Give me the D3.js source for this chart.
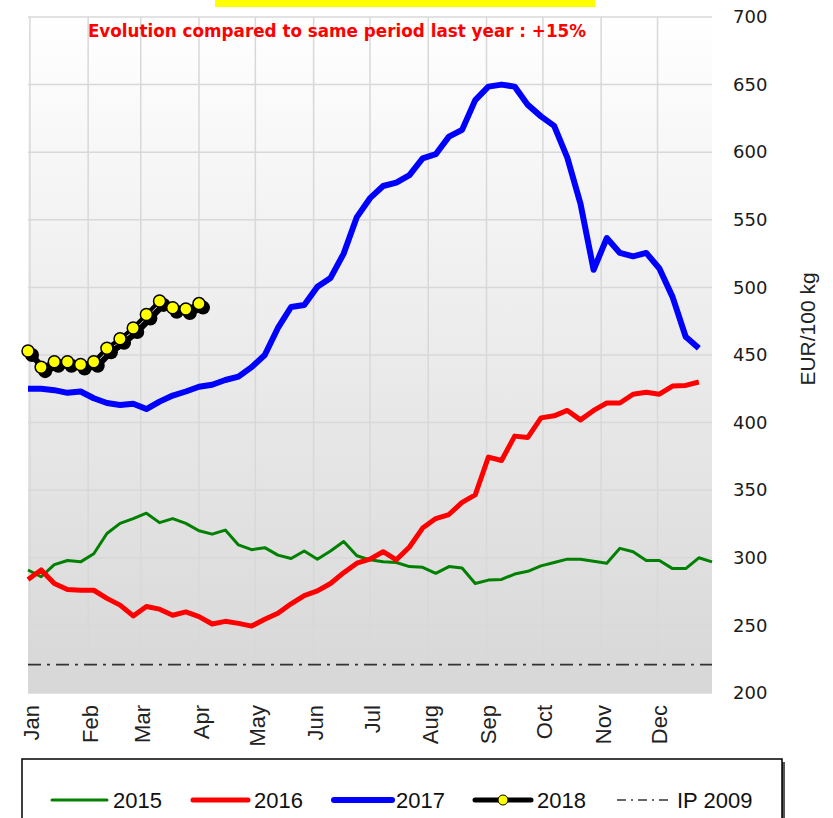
<!DOCTYPE html>
<html>
<head>
<meta charset="utf-8">
<script src="https://cdn.jsdelivr.net/npm/d3@7"></script>
<style>
  body { margin: 0; background: #fff; }
</style>
</head>
<body>
<div id="chart"></div>
<script>
// weekly prices, EUR/100 kg (week 1 = first point)
const months = ["Jan", "Feb", "Mar", "Apr", "May", "Jun", "Jul", "Aug", "Sep", "Oct", "Nov", "Dec"];
const monthStartDays = [0, 31, 59, 90, 120, 151, 181, 212, 243, 273, 304, 334];
const yTicks = [200, 250, 300, 350, 400, 450, 500, 550, 600, 650, 700];

const price2015 = [291, 286, 295, 298, 297, 303, 318, 325.5, 329, 333, 326, 329, 325.5, 320, 317.5, 320.5,
    309.5, 306, 307.5, 302, 299.5, 305, 299, 305, 312, 301.5, 298.5, 297, 296.5, 293.5, 293, 288.5, 293.5,
    292.5, 281, 283.5, 284, 288, 290, 294, 296.5, 299, 299, 297.5, 296, 307, 304.5, 298, 298, 292, 292, 300, 297];
const price2016 = [284, 291, 281, 276.5, 276, 276, 270, 265, 257, 264, 262, 257.5, 260, 256.5, 251, 253,
    251.5, 249.5, 254.5, 259, 266, 272, 275.5, 281, 289, 296, 299, 304.5, 298.5, 308, 322, 329, 332, 341,
    346.5, 374.5, 372, 390, 389, 403.5, 405, 409, 402, 409, 414.5, 414.5, 421, 422.5, 421, 427, 427.5, 430];
const price2017 = [425, 425, 424, 422, 423, 418, 414.5, 413, 414, 410, 415.5, 420, 423, 426.5, 428, 431.5,
    434, 441, 450, 470, 485.5, 487, 500.5, 507, 525, 552, 566, 575, 577.5, 583, 595.5, 598.5, 611.5, 616.5,
    638.5, 648.5, 650, 648.5, 635, 626.5, 619.5, 596, 562, 513, 536.5, 525.5, 523, 525.5, 514, 493, 463.5, 455];
const price2018 = [453, 441, 445, 445, 443, 445, 455, 462, 470, 480, 490, 485, 484, 488];
const ip2009 = 221;

const headline = "Evolution compared to same period last year : +15%";
const axisTitle = "EUR/100 kg";

const width = 833;
const height = 818;
const margin = {top: 17, right: 121, bottom: 125, left: 28};

const x = d3.scaleLinear([1, 53], [margin.left, width - margin.right]);
const y = d3.scaleLinear([200, 700], [height - margin.bottom, margin.top]);

const dayToWeek = d => 1 + (d + 1) / 7;

const svg = d3.select("#chart").append("svg")
    .attr("width", width)
    .attr("height", height)
    .attr("viewBox", [0, 0, width, height])
    .style("font-family", "'Liberation Sans', Arial, sans-serif");

const defs = svg.append("defs");
const grad = defs.append("linearGradient")
    .attr("id", "bg")
    .attr("x1", 0).attr("y1", 0).attr("x2", 0).attr("y2", 1);
grad.append("stop").attr("offset", "0%").attr("stop-color", "#ffffff");
grad.append("stop").attr("offset", "100%").attr("stop-color", "#d7d7d7");

// yellow strip at the top
svg.append("rect")
    .attr("x", 215).attr("y", 0)
    .attr("width", 380).attr("height", 7)
    .attr("fill", "#ffff00");

// plot background
svg.append("rect")
    .attr("x", x(1)).attr("y", y(700))
    .attr("width", x(53) - x(1))
    .attr("height", y(200) - y(700))
    .attr("fill", "url(#bg)");

// grid
svg.append("g")
    .selectAll("line")
    .data(yTicks)
    .join("line")
    .attr("x1", x(1)).attr("x2", x(53))
    .attr("y1", d => y(d)).attr("y2", d => y(d))
    .attr("stroke", "#d8d8d8")
    .attr("stroke-width", 1.5);

svg.append("g")
    .selectAll("line")
    .data(monthStartDays)
    .join("line")
    .attr("x1", d => x(dayToWeek(d))).attr("x2", d => x(dayToWeek(d)))
    .attr("y1", y(700)).attr("y2", y(200))
    .attr("stroke", "#d8d8d8")
    .attr("stroke-width", 1.5);

// y axis on the right
const yAxis = svg.append("g")
    .attr("transform", `translate(${x(53)},0)`)
    .call(d3.axisRight(y).tickValues(yTicks).tickSize(0).tickPadding(21));
yAxis.select(".domain").remove();
yAxis.selectAll("text")
    .attr("font-family", "'DejaVu Sans', Verdana, sans-serif")
    .attr("font-size", 18)
    .attr("fill", "#1a1a1a");

svg.append("text")
    .attr("transform", `translate(815,329) rotate(-90)`)
    .attr("text-anchor", "middle")
    .attr("font-size", 21)
    .attr("fill", "#222")
    .text(axisTitle);

// x axis month labels
const xAxis = svg.append("g")
    .attr("transform", `translate(0,${y(200)})`)
    .call(d3.axisBottom(x).tickValues(monthStartDays.map(dayToWeek)).tickFormat((d, i) => months[i]).tickSize(0));
xAxis.select(".domain").remove();
xAxis.selectAll("text")
    .attr("font-size", 22)
    .attr("fill", "#222")
    .attr("text-anchor", "end")
    .attr("dy", null)
    .attr("y", 0)
    .attr("transform", "translate(9,12) rotate(-90)");

// IP 2009 reference
svg.append("line")
    .attr("x1", x(1)).attr("x2", x(53))
    .attr("y1", y(ip2009)).attr("y2", y(ip2009))
    .attr("stroke", "#333")
    .attr("stroke-width", 1.6)
    .attr("stroke-dasharray", "13,6,3,6");

const line = d3.line()
    .x((d, i) => x(i + 1))
    .y(d => y(d));

svg.append("path")
    .datum(price2015)
    .attr("d", line)
    .attr("fill", "none")
    .attr("stroke", "#008000")
    .attr("stroke-width", 3)
    .attr("stroke-linejoin", "round");

svg.append("path")
    .datum(price2016)
    .attr("d", line)
    .attr("fill", "none")
    .attr("stroke", "#ff0000")
    .attr("stroke-width", 5)
    .attr("stroke-linejoin", "round");

svg.append("path")
    .datum(price2017)
    .attr("d", line)
    .attr("fill", "none")
    .attr("stroke", "#0000ff")
    .attr("stroke-width", 6)
    .attr("stroke-linejoin", "round");

// 2018 with a shadow
const shadow = svg.append("g").attr("transform", "translate(4,4)");
shadow.append("path")
    .datum(price2018)
    .attr("d", line)
    .attr("fill", "none")
    .attr("stroke", "#000")
    .attr("stroke-width", 6)
    .attr("stroke-linejoin", "round");
shadow.selectAll("circle")
    .data(price2018)
    .join("circle")
    .attr("cx", (d, i) => x(i + 1))
    .attr("cy", d => y(d))
    .attr("r", 7)
    .attr("fill", "#000");

svg.append("path")
    .datum(price2018)
    .attr("d", line)
    .attr("fill", "none")
    .attr("stroke", "#000")
    .attr("stroke-width", 4)
    .attr("stroke-linejoin", "round");
svg.append("g")
    .selectAll("circle")
    .data(price2018)
    .join("circle")
    .attr("cx", (d, i) => x(i + 1))
    .attr("cy", d => y(d))
    .attr("r", 6)
    .attr("fill", "#ffff00")
    .attr("stroke", "#000")
    .attr("stroke-width", 1.5);

// headline
svg.append("text")
    .attr("x", 337)
    .attr("y", 37)
    .attr("text-anchor", "middle")
    .attr("font-family", "'DejaVu Sans', Verdana, sans-serif")
    .attr("font-weight", "bold")
    .attr("font-size", 16.8)
    .attr("fill", "#ff0000")
    .text(headline);

// legend
const legend = svg.append("g");
legend.append("rect")
    .attr("x", 25).attr("y", 762)
    .attr("width", 760).attr("height", 70)
    .attr("fill", "#555");
legend.append("rect")
    .attr("x", 22).attr("y", 759)
    .attr("width", 760).attr("height", 70)
    .attr("fill", "#fff")
    .attr("stroke", "#000")
    .attr("stroke-width", 1.5);

const legendItems = [
    {label: "2015", x0: 52, x1: 107, tx: 113, color: "#008000", w: 3},
    {label: "2016", x0: 193, x1: 248, tx: 254, color: "#ff0000", w: 5},
    {label: "2017", x0: 334, x1: 392, tx: 396, color: "#0000ff", w: 6},
    {label: "2018", x0: 475, x1: 531, tx: 537, color: "#000", w: 5, marker: true},
    {label: "IP 2009", x0: 617, x1: 670, tx: 677, color: "#333", w: 1.5, dash: "9,5,2,5"}
];
const ly = 800;
const li = legend.selectAll("g.item")
    .data(legendItems)
    .join("g")
    .attr("class", "item");
li.append("line")
    .attr("x1", d => d.x0).attr("x2", d => d.x1)
    .attr("y1", ly).attr("y2", ly)
    .attr("stroke", d => d.color)
    .attr("stroke-width", d => d.w)
    .attr("stroke-linecap", d => d.dash ? "butt" : "round")
    .attr("stroke-dasharray", d => d.dash || null);
li.filter(d => d.marker)
    .append("circle")
    .attr("cx", d => (d.x0 + d.x1) / 2)
    .attr("cy", ly)
    .attr("r", 5)
    .attr("fill", "#ffff00")
    .attr("stroke", "#000")
    .attr("stroke-width", 1);
li.append("text")
    .attr("x", d => d.tx)
    .attr("y", ly + 8)
    .attr("font-size", 22)
    .attr("fill", "#111")
    .text(d => d.label);
</script>
</body>
</html>
